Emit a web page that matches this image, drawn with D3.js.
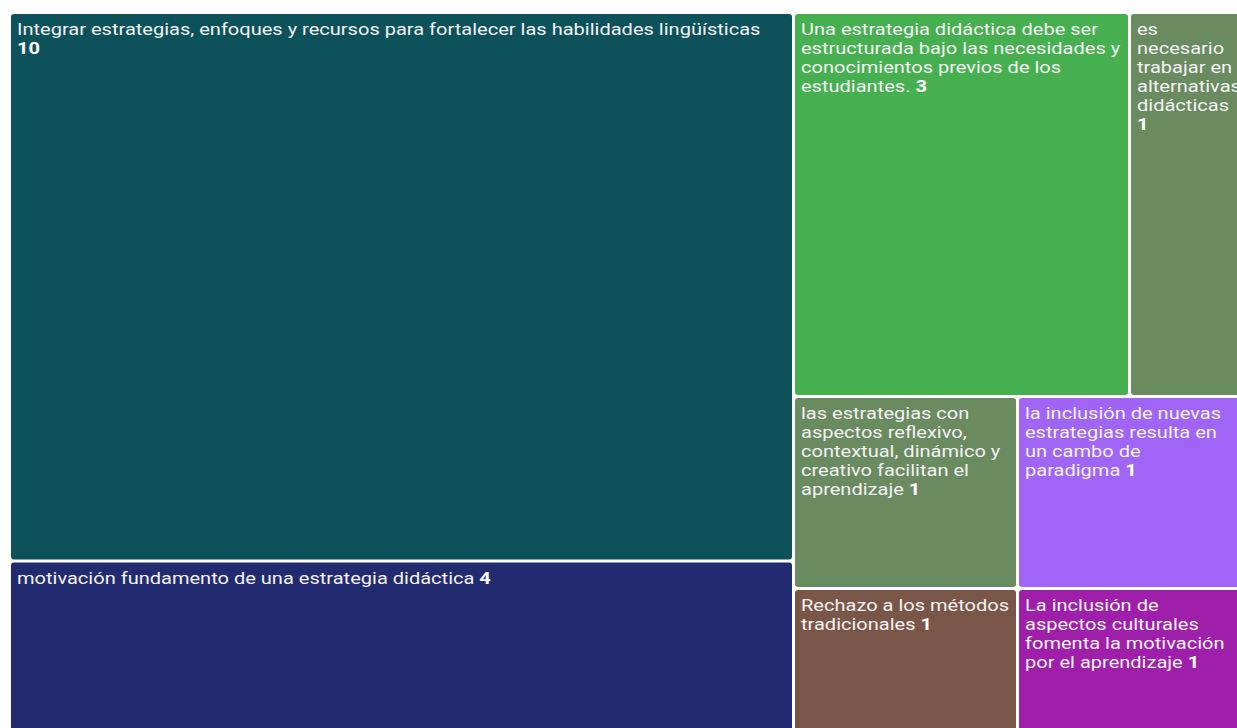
<!DOCTYPE html>
<html>
<head>
<meta charset="utf-8">
<script src="https://cdn.jsdelivr.net/npm/d3@7"></script>
<style>
  body { margin: 0; background: #fff; overflow: hidden; }
  text { font-family: Roboto, "Noto Sans", sans-serif; }
</style>
</head>
<body>
<div id="chart"></div>
<script>
var labels = [
    "Integrar estrategias, enfoques y recursos para fortalecer las habilidades lingüísticas",
    "motivación fundamento de una estrategia didáctica",
    "Una estrategia didáctica debe ser estructurada bajo las necesidades y conocimientos previos de los estudiantes.",
    "es necesario trabajar en alternativas didácticas",
    "las estrategias con aspectos reflexivo, contextual, dinámico y creativo facilitan el aprendizaje",
    "Rechazo a los métodos tradicionales",
    "la inclusión de nuevas estrategias resulta en un cambo de paradigma",
    "La inclusión de aspectos culturales fomenta la motivación por el aprendizaje"
];
var values = [10, 4, 3, 1, 1, 1, 1, 1];
var colors = ["#0d525b", "#222a70", "#46b050", "#6a8a60", "#6a8a60", "#7a5648", "#a064f7", "#9f1fab"];

var svgWidth = 1237;
var svgHeight = 728;

// the treemap runs past the right and bottom edge of the window
var margin = { top: 14, left: 11 };
var width = 1229;
var height = 765;

var fontSize = 16.5;
var stretch = 1.215;   // labels look horizontally widened in the original
var lineHeight = 19;
var pad = 6;

var svg = d3.select("#chart")
    .append("svg")
    .attr("width", svgWidth)
    .attr("height", svgHeight);

var chartGroup = svg.append("g")
    .attr("transform", `translate(${margin.left}, ${margin.top})`);

var items = labels.map((d, i) => ({ label: d, value: values[i], color: colors[i] }));

var root = d3.hierarchy({ children: items })
    .sum(d => d.value || 0)
    .sort((a, b) => b.value - a.value);

d3.treemap()
    .tile(d3.treemapSquarify)
    .size([width, height])
    .paddingInner(3)(root);

var cells = chartGroup.selectAll("g.cell")
    .data(root.leaves())
    .enter()
    .append("g")
    .attr("class", "cell")
    .attr("transform", d => `translate(${d.x0}, ${d.y0})`);

cells.append("rect")
    .attr("width", d => d.x1 - d.x0)
    .attr("height", d => d.y1 - d.y0)
    .attr("rx", 3)
    .attr("ry", 3)
    .attr("fill", d => d.data.color);

// measure with a hidden svg text so wrapping matches what is drawn
var probe = svg.append("text")
    .attr("font-size", fontSize + "px")
    .attr("visibility", "hidden");
function measure(str, bold) {
    probe.attr("font-weight", bold ? "bold" : "normal").text(str);
    return probe.node().getComputedTextLength();
}
// a lone space collapses to 0, so take it from the difference
var spaceW = measure("a a") - measure("aa");

function wrapLines(d) {
    var maxW = ((d.x1 - d.x0) - pad * 2) / stretch;
    var words = d.data.label.split(" ");
    var num = String(d.data.value);
    var numW = measure(num, true);
    var lines = [];
    var cur = "";
    words.forEach(function (w) {
        var test = cur ? cur + " " + w : w;
        if (cur && measure(test) > maxW) {
            lines.push(cur);
            cur = w;
        } else {
            cur = test;
        }
    });
    // bold value goes at the end of the last line if it fits
    var numOnOwnLine = measure(cur) + spaceW + numW > maxW;
    lines.push(cur);
    return { lines: lines, num: num, ownLine: numOnOwnLine };
}

cells.each(function (d) {
    var g = d3.select(this);
    var lay = wrapLines(d);
    var text = g.append("text")
        .attr("transform", `translate(${pad}, 21) scale(${stretch}, 1)`)
        .attr("font-size", fontSize + "px")
        .attr("fill", "#f2f2f2");
    lay.lines.forEach(function (line, i) {
        text.append("tspan")
            .attr("x", 0)
            .attr("dy", i === 0 ? 0 : lineHeight)
            .text(line);
    });
    var numSpan = text.append("tspan")
        .attr("font-weight", "bold")
        .attr("fill", "#fff")
        .text(lay.num);
    if (lay.ownLine) {
        numSpan.attr("x", 0).attr("dy", lineHeight);
    } else {
        numSpan.attr("dx", spaceW);
    }
});

probe.remove();
</script>
</body>
</html>
